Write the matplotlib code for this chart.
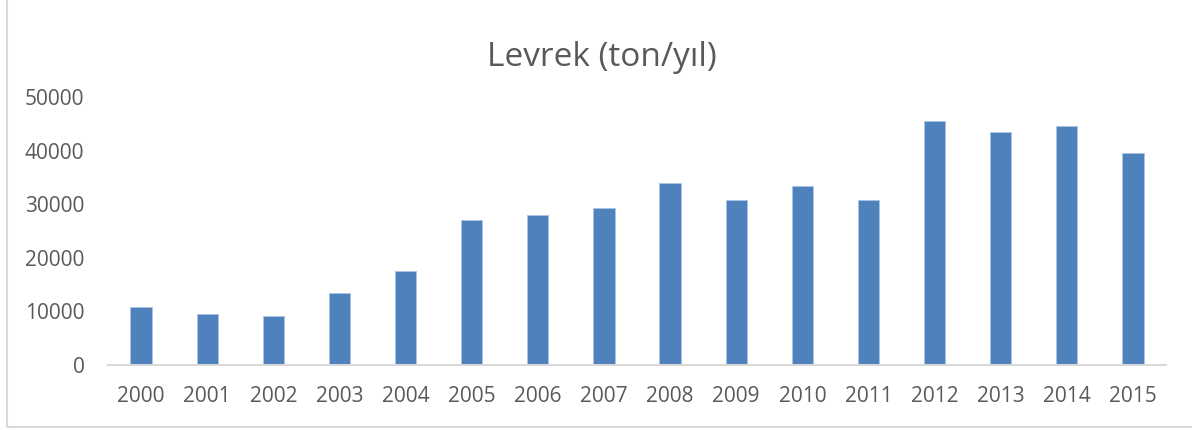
import matplotlib
matplotlib.use("Agg")
import matplotlib.pyplot as plt
from matplotlib.patches import Rectangle

years = ["2000", "2001", "2002", "2003", "2004", "2005", "2006", "2007",
         "2008", "2009", "2010", "2011", "2012", "2013", "2014", "2015"]
values = [10760, 9450, 9140, 13370, 17540, 27110, 27990, 29290,
          34010, 30780, 33400, 30720, 45580, 43530, 44590, 39550]
yticks = [0, 10000, 20000, 30000, 40000, 50000]
title = "Levrek (ton/yıl)"

W, H = 1192, 430
fig = plt.figure(figsize=(W / 100, H / 100), dpi=100)
plt.rcParams['font.family'] = ['Open Sans', 'DejaVu Sans']
text_color = "#595959"

ax = fig.add_axes([108 / W, 65 / H, (1166 - 108) / W, (365 - 97) / H])
x = list(range(len(years)))
ax.bar(x, values, width=0.32, color="#4F81BD", edgecolor="#a9c4e6", linewidth=0.6)
ax.set_xlim(-0.5, len(years) - 0.5)
ax.set_ylim(0, 50000)
ax.set_xticks(x)
ax.set_xticklabels(years)
ax.set_yticks(yticks)
ax.set_yticklabels([str(v) for v in yticks])
ax.tick_params(axis='both', length=0, labelsize=15, colors=text_color)
ax.tick_params(axis='y', pad=17)
ax.tick_params(axis='x', pad=15)
for s in ["top", "right", "left"]:
    ax.spines[s].set_visible(False)
ax.spines["bottom"].set_color("#D9D9D9")
ax.spines["bottom"].set_linewidth(1.5)

fig.text(602 / W, 1 - 57 / H, title, ha="center", va="center",
         fontsize=24, color=text_color)

# chart frame
fig.patches.append(Rectangle((7 / W, 3 / H), 1.2, 1.2, transform=fig.transFigure,
                             fill=False, edgecolor="#D9D9D9", linewidth=1.5))

fig.savefig("out.png", dpi=100)
